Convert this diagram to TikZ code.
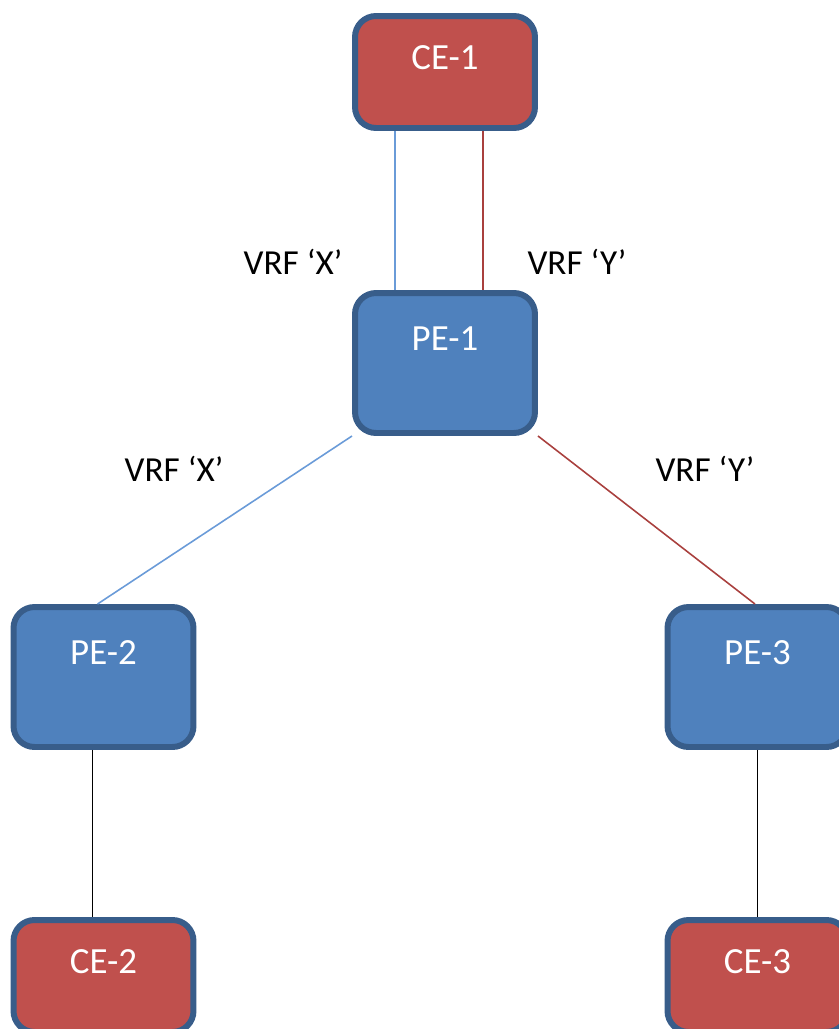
\documentclass[tikz,border=0pt]{standalone}
\usepackage{fontspec}
\setmainfont{Carlito}
\usetikzlibrary{positioning}
\definecolor{ceRed}{HTML}{C0504D}
\definecolor{peBlue}{HTML}{4F81BD}
\definecolor{rimBlue}{HTML}{385D8A}
\definecolor{vrfXcol}{HTML}{6A9BD8}
\definecolor{vrfYcol}{HTML}{A9403E}
\tikzset{
	router/.style={draw=rimBlue,line width=3.4pt,rounded corners=0.42cm,minimum width=3.6cm,inner sep=0pt},
	cebox/.style={router,fill=ceRed,minimum height=2.24cm},
	pebox/.style={router,fill=peBlue,minimum height=2.8cm},
	boxname/.style={text=white,font=\fontsize{21}{25}\selectfont},
	vrflabel/.style={font=\fontsize{20}{24}\selectfont},
	linkx/.style={vrfXcol,line width=0.9pt},
	linky/.style={vrfYcol,line width=0.9pt},
	linkce/.style={black,line width=1pt}
}

\begin{document}
\begin{tikzpicture}[x=0.02cm,y=-0.02cm]
	\useasboundingbox (0,0) rectangle (839,1029);
	% routers
	\node[cebox] (ce1) at (445,72) {};
	\node[pebox] (pe1) at (445,363) {};
	\node[pebox] (pe2) at (103.5,677) {};
	\node[pebox] (pe3) at (757.5,677) {};
	\node[cebox] (ce2) at (103.5,976) {};
	\node[cebox] (ce3) at (757.5,976) {};
	% names
	\node[boxname,below=0.9cm of ce1.north,anchor=center] (ce1name) {CE-1};
	\node[boxname,below=0.98cm of pe1.north,anchor=center] (pe1name) {PE-1};
	\node[boxname,below=0.98cm of pe2.north,anchor=center] (pe2name) {PE-2};
	\node[boxname,below=0.98cm of pe3.north,anchor=center] (pe3name) {PE-3};
	\node[boxname,below=0.9cm of ce2.north,anchor=center] (ce2name) {CE-2};
	\node[boxname,below=0.9cm of ce3.north,anchor=center] (ce3name) {CE-3};
	% links
	\draw[linkx] ([xshift=-1cm]ce1.south) -- ([xshift=-1cm]pe1.north);
	\draw[linky] ([xshift=0.76cm]ce1.south) -- ([xshift=0.76cm]pe1.north);
	\draw[linkx] (pe1.south west) -- ([xshift=-0.12cm]pe2.north);
	\draw[linky] (pe1.south east) -- ([xshift=-0.05cm]pe3.north);
	\draw[linkce] ([xshift=-0.22cm]pe2.south) -- ([xshift=-0.22cm]ce2.north);
	\draw[linkce] (pe3.south) -- (ce3.north);
	% vrf labels
	\node[vrflabel] (vx1) at (293,262) {VRF ‘X’};
	\node[vrflabel] (vy1) at (577,262) {VRF ‘Y’};
	\node[vrflabel] (vx2) at (174,469) {VRF ‘X’};
	\node[vrflabel] (vy2) at (705,469) {VRF ‘Y’};
\end{tikzpicture}
\end{document}
